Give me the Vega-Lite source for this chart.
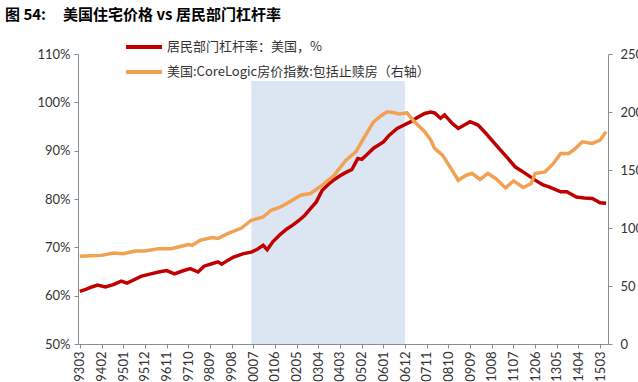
{
  "$schema": "https://vega.github.io/schema/vega-lite/v6.json",
  "width": 530,
  "height": 290,
  "autosize": "none",
  "padding": {"left": 78, "top": 54, "right": 30, "bottom": 38},
  "background": "white",
  "title": {
    "text": "图 54:\u00a0\u00a0\u00a0\u00a0\u00a0美国住宅价格 vs 居民部门杠杆率",
    "anchor": "start",
    "frame": "group",
    "dx": -73,
    "dy": -2,
    "offset": 8,
    "font": "Noto Sans CJK SC",
    "fontSize": 15,
    "fontWeight": "bold",
    "color": "#000000"
  },
  "config": {
    "view": {"stroke": null},
    "font": "Lato",
    "axis": {
      "grid": false,
      "domainColor": "#8c8c8c",
      "tickColor": "#8c8c8c",
      "tickSize": 4,
      "labelColor": "#333333",
      "labelFont": "Lato",
      "labelFontSize": 13,
      "title": null
    },
    "axisX": {"labelOverlap": false, "labelFontSize": 13, "labelAngle": 270, "labelPadding": 3, "labelBound": false, "labelFlush": false}
  },
  "datasets": {
    "shade": [{"start": "2000-06-01", "end": "2006-12-01"}],
    "lev": [
      {"date": "1993-03-01", "v": 60.9},
      {"date": "1993-06-01", "v": 61.3},
      {"date": "1993-09-01", "v": 61.8},
      {"date": "1993-12-01", "v": 62.2},
      {"date": "1994-04-01", "v": 61.8},
      {"date": "1994-08-01", "v": 62.3},
      {"date": "1994-12-01", "v": 63.0},
      {"date": "1995-03-01", "v": 62.6},
      {"date": "1995-06-01", "v": 63.2},
      {"date": "1995-10-01", "v": 64.0},
      {"date": "1996-03-01", "v": 64.5},
      {"date": "1996-07-01", "v": 64.9},
      {"date": "1996-11-01", "v": 65.2},
      {"date": "1997-03-01", "v": 64.5},
      {"date": "1997-07-01", "v": 65.1},
      {"date": "1997-11-01", "v": 65.6},
      {"date": "1998-03-01", "v": 64.9},
      {"date": "1998-06-01", "v": 66.1},
      {"date": "1998-10-01", "v": 66.6},
      {"date": "1999-01-01", "v": 67.0},
      {"date": "1999-03-01", "v": 66.5},
      {"date": "1999-06-01", "v": 67.3},
      {"date": "1999-09-01", "v": 68.0},
      {"date": "2000-02-01", "v": 68.7},
      {"date": "2000-06-01", "v": 69.0},
      {"date": "2000-09-01", "v": 69.6},
      {"date": "2000-12-01", "v": 70.4},
      {"date": "2001-02-01", "v": 69.5},
      {"date": "2001-05-01", "v": 71.2},
      {"date": "2001-09-01", "v": 72.8},
      {"date": "2001-12-01", "v": 73.8},
      {"date": "2002-03-01", "v": 74.6},
      {"date": "2002-06-01", "v": 75.5},
      {"date": "2002-09-01", "v": 76.6},
      {"date": "2002-12-01", "v": 78.0},
      {"date": "2003-03-01", "v": 79.4},
      {"date": "2003-06-01", "v": 81.8},
      {"date": "2003-09-01", "v": 83.0},
      {"date": "2003-12-01", "v": 84.0},
      {"date": "2004-03-01", "v": 84.8},
      {"date": "2004-06-01", "v": 85.5},
      {"date": "2004-09-01", "v": 86.1},
      {"date": "2004-12-01", "v": 88.4},
      {"date": "2005-02-01", "v": 88.2},
      {"date": "2005-05-01", "v": 89.3},
      {"date": "2005-08-01", "v": 90.5},
      {"date": "2006-01-01", "v": 91.8},
      {"date": "2006-04-01", "v": 93.2},
      {"date": "2006-08-01", "v": 94.6},
      {"date": "2006-11-01", "v": 95.2},
      {"date": "2007-03-01", "v": 96.0},
      {"date": "2007-06-01", "v": 96.8},
      {"date": "2007-10-01", "v": 97.7},
      {"date": "2008-01-01", "v": 98.0},
      {"date": "2008-03-01", "v": 97.8},
      {"date": "2008-06-01", "v": 96.7},
      {"date": "2008-08-01", "v": 97.4},
      {"date": "2008-12-01", "v": 95.6},
      {"date": "2009-03-01", "v": 94.6},
      {"date": "2009-09-01", "v": 96.0},
      {"date": "2010-01-01", "v": 95.3},
      {"date": "2010-05-01", "v": 93.6},
      {"date": "2010-08-01", "v": 92.2},
      {"date": "2010-12-01", "v": 90.3},
      {"date": "2011-04-01", "v": 88.5},
      {"date": "2011-08-01", "v": 86.6},
      {"date": "2012-01-01", "v": 85.3},
      {"date": "2012-06-01", "v": 83.9},
      {"date": "2012-10-01", "v": 82.9},
      {"date": "2013-01-01", "v": 82.5},
      {"date": "2013-07-01", "v": 81.5},
      {"date": "2013-10-01", "v": 81.5},
      {"date": "2014-03-01", "v": 80.4},
      {"date": "2014-07-01", "v": 80.2},
      {"date": "2014-11-01", "v": 80.1},
      {"date": "2015-03-01", "v": 79.2},
      {"date": "2015-06-01", "v": 79.1}
    ],
    "hpi": [
      {"date": "1993-03-01", "v": 75.6},
      {"date": "1993-09-01", "v": 76.0},
      {"date": "1994-02-01", "v": 76.4},
      {"date": "1994-08-01", "v": 78.5},
      {"date": "1995-01-01", "v": 77.9},
      {"date": "1995-07-01", "v": 80.1},
      {"date": "1995-12-01", "v": 80.1},
      {"date": "1996-07-01", "v": 82.2},
      {"date": "1997-01-01", "v": 82.2},
      {"date": "1997-06-01", "v": 84.0},
      {"date": "1997-10-01", "v": 85.7},
      {"date": "1997-12-01", "v": 85.1},
      {"date": "1998-04-01", "v": 89.4},
      {"date": "1998-10-01", "v": 91.7},
      {"date": "1999-01-01", "v": 90.9},
      {"date": "1999-06-01", "v": 95.2},
      {"date": "2000-01-01", "v": 100.0},
      {"date": "2000-06-01", "v": 106.7},
      {"date": "2000-12-01", "v": 109.5},
      {"date": "2001-04-01", "v": 115.3},
      {"date": "2001-08-01", "v": 117.5},
      {"date": "2001-12-01", "v": 121.1},
      {"date": "2002-07-01", "v": 128.2},
      {"date": "2002-12-01", "v": 129.7},
      {"date": "2003-06-01", "v": 136.9},
      {"date": "2003-12-01", "v": 145.5},
      {"date": "2004-06-01", "v": 158.5},
      {"date": "2004-11-01", "v": 165.6},
      {"date": "2005-03-01", "v": 177.2},
      {"date": "2005-08-01", "v": 191.5},
      {"date": "2005-12-01", "v": 197.0},
      {"date": "2006-03-01", "v": 200.2},
      {"date": "2006-06-01", "v": 199.5},
      {"date": "2006-09-01", "v": 198.2},
      {"date": "2007-01-01", "v": 199.3},
      {"date": "2007-04-01", "v": 193.0},
      {"date": "2007-07-01", "v": 188.0},
      {"date": "2007-10-01", "v": 183.0},
      {"date": "2008-01-01", "v": 176.0},
      {"date": "2008-03-01", "v": 168.6},
      {"date": "2008-07-01", "v": 162.8},
      {"date": "2008-11-01", "v": 152.0},
      {"date": "2009-03-01", "v": 141.2},
      {"date": "2009-07-01", "v": 145.5},
      {"date": "2009-10-01", "v": 147.0},
      {"date": "2010-02-01", "v": 141.8},
      {"date": "2010-06-01", "v": 147.0},
      {"date": "2010-10-01", "v": 142.7},
      {"date": "2011-03-01", "v": 134.5},
      {"date": "2011-07-01", "v": 140.6},
      {"date": "2011-12-01", "v": 134.9},
      {"date": "2012-04-01", "v": 138.3},
      {"date": "2012-06-01", "v": 147.0},
      {"date": "2012-11-01", "v": 148.4},
      {"date": "2013-03-01", "v": 155.0},
      {"date": "2013-07-01", "v": 164.3},
      {"date": "2013-11-01", "v": 164.3},
      {"date": "2014-02-01", "v": 168.0},
      {"date": "2014-06-01", "v": 174.3},
      {"date": "2014-11-01", "v": 172.9},
      {"date": "2015-03-01", "v": 175.7},
      {"date": "2015-06-01", "v": 182.9}
    ]
  },
  "layer": [
    {
      "data": {"name": "shade"},
      "mark": {"type": "rect", "color": "#DCE6F2"},
      "encoding": {
        "x": {
          "field": "start", "type": "temporal",
          "scale": {"type": "utc", "domain": [{"year": 1993, "month": 2, "date": 1, "utc": true}, {"year": 2015, "month": 7, "date": 1, "utc": true}]},
          "axis": {
            "format": "%y%m",
            "labelOverlap": false,
            "tickCount": 40,
            "values": [
              {"year": 1993, "month": 3, "date": 1, "utc": true},
              {"year": 1994, "month": 2, "date": 1, "utc": true},
              {"year": 1995, "month": 1, "date": 1, "utc": true},
              {"year": 1995, "month": 12, "date": 1, "utc": true},
              {"year": 1996, "month": 11, "date": 1, "utc": true},
              {"year": 1997, "month": 10, "date": 1, "utc": true},
              {"year": 1998, "month": 9, "date": 1, "utc": true},
              {"year": 1999, "month": 8, "date": 1, "utc": true},
              {"year": 2000, "month": 7, "date": 1, "utc": true},
              {"year": 2001, "month": 6, "date": 1, "utc": true},
              {"year": 2002, "month": 5, "date": 1, "utc": true},
              {"year": 2003, "month": 4, "date": 1, "utc": true},
              {"year": 2004, "month": 3, "date": 1, "utc": true},
              {"year": 2005, "month": 2, "date": 1, "utc": true},
              {"year": 2006, "month": 1, "date": 1, "utc": true},
              {"year": 2006, "month": 12, "date": 1, "utc": true},
              {"year": 2007, "month": 11, "date": 1, "utc": true},
              {"year": 2008, "month": 10, "date": 1, "utc": true},
              {"year": 2009, "month": 9, "date": 1, "utc": true},
              {"year": 2010, "month": 8, "date": 1, "utc": true},
              {"year": 2011, "month": 7, "date": 1, "utc": true},
              {"year": 2012, "month": 6, "date": 1, "utc": true},
              {"year": 2013, "month": 5, "date": 1, "utc": true},
              {"year": 2014, "month": 4, "date": 1, "utc": true},
              {"year": 2015, "month": 3, "date": 1, "utc": true}
            ]
          }
        },
        "x2": {"field": "end"},
        "y": {"datum": 50, "type": "quantitative", "scale": {"domain": [50, 110], "nice": false, "zero": false}, "axis": null},
        "y2": {"datum": 104.4}
      }
    },
    {
      "data": {"name": "lev"},
      "mark": {"type": "line", "strokeWidth": 3.5, "interpolate": "linear"},
      "encoding": {
        "x": {"field": "date", "type": "temporal"},
        "y": {
          "field": "v", "type": "quantitative",
          "scale": {"domain": [50, 110], "nice": false, "zero": false},
          "axis": {"values": [50, 60, 70, 80, 90, 100, 110], "labelExpr": "datum.value + '%'", "labelPadding": 4}
        },
        "color": {
          "datum": "居民部门杠杆率：美国，%",
          "type": "nominal",
          "scale": {
            "domain": ["居民部门杠杆率：美国，%", "美国:CoreLogic房价指数:包括止赎房（右轴）"],
            "range": ["#C00000", "#F2A052"]
          },
          "legend": {
            "orient": "none",
            "legendX": 52,
            "legendY": -21,
            "title": null,
            "symbolType": "M-1.5,0H1.5",
            "symbolSize": 576,
            "symbolStrokeWidth": 4,
            "labelFont": "Noto Sans CJK SC",
            "labelFontSize": 13,
            "labelColor": "#333333",
            "labelOffset": 9,
            "rowPadding": 3,
            "labelLimit": 400
          }
        }
      }
    },
    {
      "data": {"name": "hpi"},
      "mark": {"type": "line", "strokeWidth": 3.5, "interpolate": "linear"},
      "encoding": {
        "x": {"field": "date", "type": "temporal"},
        "y": {
          "field": "v", "type": "quantitative",
          "scale": {"domain": [0, 250], "nice": false},
          "axis": {"orient": "right", "values": [0, 50, 100, 150, 200, 250], "labelPadding": 8}
        },
        "color": {"datum": "美国:CoreLogic房价指数:包括止赎房（右轴）", "type": "nominal"}
      }
    }
  ],
  "resolve": {"scale": {"y": "independent"}}
}
